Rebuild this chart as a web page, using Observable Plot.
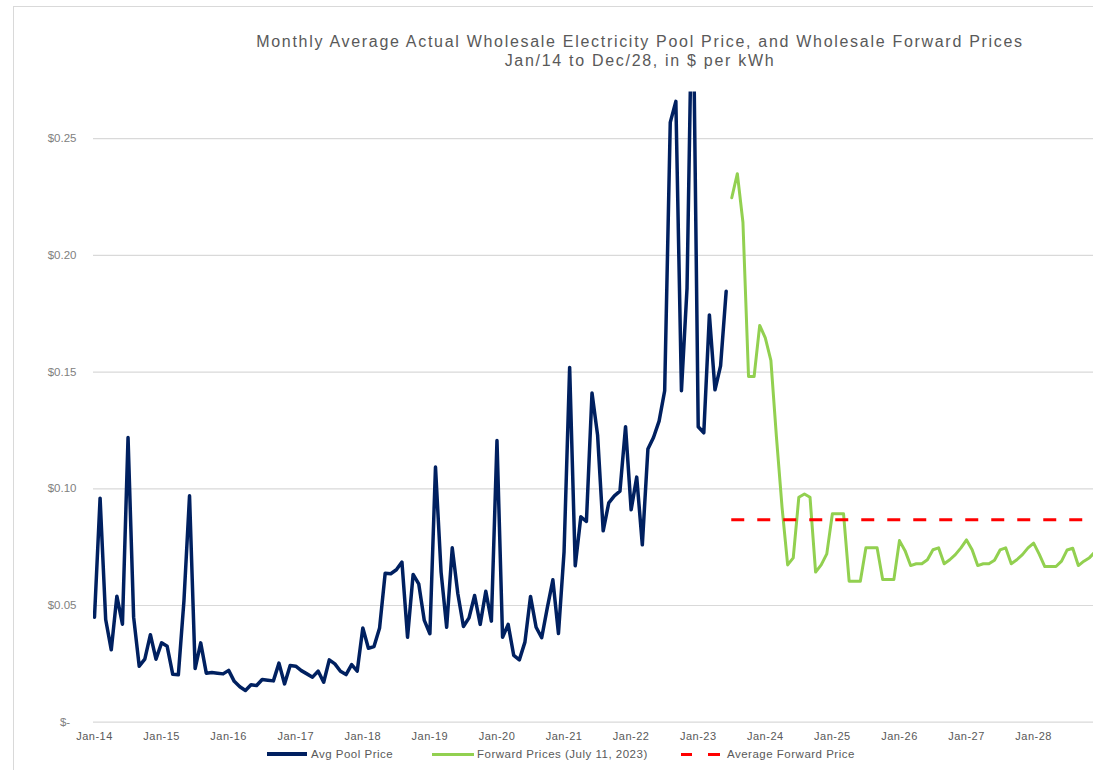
<!DOCTYPE html>
<html><head><meta charset="utf-8">
<script src="https://cdn.jsdelivr.net/npm/d3@7"></script>
<script src="https://cdn.jsdelivr.net/npm/@observablehq/plot@0.6"></script>
<style>
html,body{margin:0;padding:0;background:#fff;overflow:hidden;}
#wrap{position:relative;width:1093px;height:770px;overflow:hidden;font-family:"Liberation Sans",Arial,sans-serif;background:#fff;}
#frame{position:absolute;left:13px;top:6px;width:1100px;height:800px;border-left:1px solid #d9d9d9;border-top:1px solid #d9d9d9;}
.title{position:absolute;left:0;width:1280px;text-align:center;color:#595959;font-size:16px;line-height:20px;letter-spacing:1.7px;white-space:nowrap;}
#chart{position:absolute;left:0;top:80px;}
.lg{position:absolute;}
.lgt{position:absolute;top:745px;line-height:18px;font-size:11.5px;letter-spacing:0.5px;color:#595959;white-space:nowrap;}
g[aria-label="x-axis tick label"] text{letter-spacing:0.5px;}
</style>
</head><body>
<div id="wrap">
  <div id="frame"></div>
  <div class="title" style="top:32px">Monthly Average Actual Wholesale Electricity Pool Price, and Wholesale Forward Prices</div>
  <div class="title" style="top:51px">Jan/14 to Dec/28, in $ per kWh</div>
  <div id="chart"></div>
  <div class="lg" style="left:267px;top:752px;width:40px;height:3.5px;background:#002060"></div>
  <div class="lgt" style="left:311px">Avg Pool Price</div>
  <div class="lg" style="left:432px;top:752.5px;width:42px;height:3px;background:#92D050"></div>
  <div class="lgt" style="left:477px">Forward Prices (July 11, 2023)</div>
  <div class="lg" style="left:681px;top:752.5px;width:11px;height:3px;background:#ff0000"></div>
  <div class="lg" style="left:708px;top:752.5px;width:12px;height:3px;background:#ff0000"></div>
  <div class="lgt" style="left:727px">Average Forward Price</div>
</div>
<script>
// Monthly average pool price, Jan-14 .. Jun-23 ($/kWh)
const poolPrice = [
  0.045, 0.096, 0.044, 0.031, 0.054, 0.042, 0.122, 0.045, 0.024, 0.027, 0.0375, 0.027,
  0.034, 0.0325, 0.0205, 0.0203, 0.052, 0.097, 0.023, 0.034, 0.021, 0.0213, 0.021, 0.0207,
  0.0222, 0.0175, 0.0152, 0.0136, 0.016, 0.0157, 0.0183, 0.018, 0.0177, 0.0253, 0.0164, 0.0243,
  0.024, 0.0221, 0.0207, 0.0193, 0.0219, 0.0171, 0.0267, 0.025, 0.0218, 0.0204, 0.0247, 0.0219,
  0.0404, 0.0317, 0.0324, 0.0404, 0.0638, 0.0636, 0.0653, 0.0686, 0.0364, 0.0633, 0.0593, 0.0436,
  0.0379, 0.1093, 0.0643, 0.0407, 0.0747, 0.055, 0.041, 0.0447, 0.0543, 0.0419, 0.0561, 0.0433,
  0.1207, 0.0364, 0.0419, 0.0286, 0.0267, 0.0343, 0.0539, 0.0407, 0.0362, 0.049, 0.061, 0.038,
  0.073, 0.152, 0.067, 0.088, 0.086, 0.141, 0.123, 0.082, 0.094, 0.097, 0.099, 0.1266,
  0.091, 0.105, 0.076, 0.117, 0.122, 0.129, 0.142, 0.257, 0.266, 0.142, 0.186, 0.33,
  0.1266, 0.124, 0.1745, 0.1424, 0.1527, 0.1846
];
// Forward prices (July 11, 2023), Jul-23 .. Dec-28 ($/kWh)
const forwardPrice = [
  0.2247, 0.235, 0.2142, 0.1481, 0.1481, 0.170,
  0.1647, 0.155, 0.122, 0.092, 0.0674, 0.0704, 0.0964, 0.0978, 0.0964, 0.0643, 0.0674, 0.0721,
  0.0893, 0.0893, 0.0893, 0.0604, 0.0604, 0.0604, 0.0747, 0.0747, 0.0747, 0.0611, 0.0611, 0.0611,
  0.0778, 0.0735, 0.0671, 0.0679, 0.0679, 0.0696, 0.0739, 0.0747, 0.0679, 0.0696, 0.0718, 0.0747,
  0.0781, 0.0739, 0.0671, 0.0679, 0.0679, 0.0694, 0.0738, 0.0747, 0.0679, 0.0696, 0.0718, 0.0747,
  0.0767, 0.072, 0.0667, 0.0667, 0.0667, 0.069, 0.0738, 0.0745, 0.0671, 0.069, 0.0705, 0.073
];
const avgForwardPrice = 0.0867;
const yTicks = [0, 0.05, 0.10, 0.15, 0.20, 0.25];
const xTickLabels = ["Jan-14","Jan-15","Jan-16","Jan-17","Jan-18","Jan-19","Jan-20","Jan-21",
                     "Jan-22","Jan-23","Jan-24","Jan-25","Jan-26","Jan-27","Jan-28"];

const poolRows = poolPrice.map((v, i) => ({m: i, v}));
const fwdRows = forwardPrice.map((v, i) => ({m: i + poolPrice.length, v}));
const lastMonth = poolPrice.length + forwardPrice.length - 1;
const xTicks = xTickLabels.map((d, k) => k * 12);

const chart = Plot.plot({
  width: 1093,
  height: 665,
  marginLeft: 93,
  marginRight: 0,
  marginTop: 11.5,
  marginBottom: 23.3,
  style: {fontFamily: "Liberation Sans, Arial, sans-serif", background: "transparent"},
  x: {domain: [0, lastMonth], range: [94, 1094.6]},
  y: {domain: [0, 0.27]},
  marks: [
    Plot.gridY(yTicks, {stroke: "#d9d9d9", strokeOpacity: 1, strokeWidth: 1.2}),
    Plot.axisY(yTicks, {tickSize: 0, tickPadding: 17, label: null, fontSize: 11.5, color: "#808080",
      tickFormat: d => d === 0 ? "$-\u2007" : "$" + d.toFixed(2)}),
    Plot.axisX(xTicks, {tickSize: 0, tickPadding: 10, label: null, fontSize: 11, color: "#595959",
      tickFormat: i => xTickLabels[i / 12]}),
    Plot.line(poolRows, {x: "m", y: "v", stroke: "#002060", strokeWidth: 3.5, strokeLinejoin: "round", clip: true}),
    Plot.line(fwdRows, {x: "m", y: "v", stroke: "#92D050", strokeWidth: 3, strokeLinejoin: "round", clip: true}),
    Plot.ruleY([avgForwardPrice], {x1: poolPrice.length, x2: lastMonth, stroke: "#ff0000", strokeWidth: 3,
      strokeDasharray: "13,13", clip: true})
  ]
});
document.getElementById("chart").appendChild(chart);
</script>
</body></html>
